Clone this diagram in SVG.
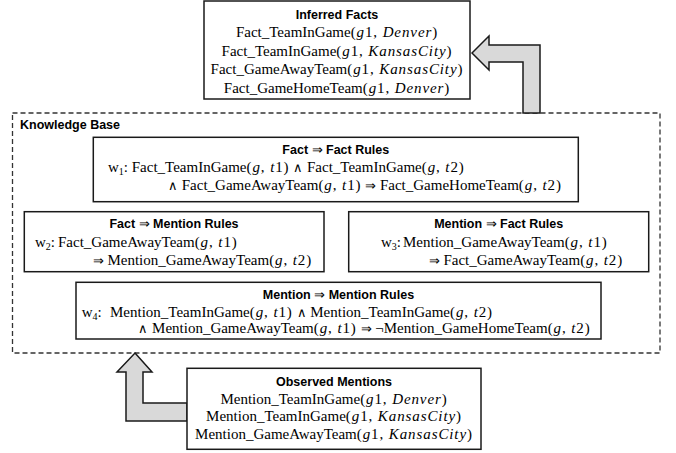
<svg xmlns="http://www.w3.org/2000/svg" width="676" height="453" viewBox="0 0 676 453">
<style>
.box{fill:#fff;stroke:#1a1a1a;stroke-width:1.5}
.kb{fill:none;stroke:#333;stroke-width:1.3;stroke-dasharray:5 3}
.arrow{fill:#d9d9d9;stroke:#1a1a1a;stroke-width:1.5;stroke-linejoin:miter}
.t{font-family:"Liberation Serif","Times New Roman","DejaVu Serif",serif;font-size:15px;fill:#000}
.c{text-anchor:middle}
.h{font-family:"Liberation Sans",Arial,sans-serif;font-weight:bold;font-size:12.5px;fill:#000}
.i{font-style:italic}
.m{letter-spacing:0.9px}
.op{font-family:"DejaVu Sans",sans-serif;font-weight:200;font-size:13px}
.sub{font-size:10px}
</style>
<rect width="676" height="453" fill="#fff"/>

<g id="knowledge-base">
<rect class="kb" x="12.5" y="113" width="647.5" height="240"/>
<text class="h" x="20" y="129">Knowledge Base</text>
</g>

<g id="connectors">
<polygon class="arrow" points="472,53 489,36 489,45 540,45 540,113 523,113 523,62 489,62 489,70"/>
<polygon class="arrow" points="135,353 152,372 143,372 143,403 187,403 187,421 126,421 126,372 117,372"/>
</g>

<g id="inferred-facts">
<rect class="box" x="204" y="1" width="266" height="98"/>
<text class="h c" x="337" y="18.5">Inferred Facts</text>
<text class="t c" x="337" y="37">Fact_TeamInGame<tspan class="m">(<tspan class="i">g</tspan>1, <tspan class="i">Denver</tspan>)</tspan></text>
<text class="t c" x="337" y="55.5">Fact_TeamInGame<tspan class="m">(<tspan class="i">g</tspan>1, <tspan class="i">KansasCity</tspan>)</tspan></text>
<text class="t c" x="337" y="74">Fact_GameAwayTeam<tspan class="m">(<tspan class="i">g</tspan>1, <tspan class="i">KansasCity</tspan>)</tspan></text>
<text class="t c" x="337" y="92.5">Fact_GameHomeTeam<tspan class="m">(<tspan class="i">g</tspan>1, <tspan class="i">Denver</tspan>)</tspan></text>
</g>

<g id="fact-fact-rules">
<rect class="box" x="93.3" y="137.3" width="485" height="64.4"/>
<text class="h c" x="335.8" y="154">Fact <tspan class="op" font-weight="200">⇒</tspan> Fact Rules</text>
<text class="t" x="108" y="171.5">w<tspan class="sub" dy="3">1</tspan><tspan dy="-3">: Fact_TeamInGame<tspan class="m">(<tspan class="i">g</tspan>, <tspan class="i">t</tspan>1)</tspan> <tspan class="op">∧</tspan> Fact_TeamInGame<tspan class="m">(<tspan class="i">g</tspan>, <tspan class="i">t</tspan>2)</tspan></tspan></text>
<text class="t" x="168" y="190"><tspan class="op">∧</tspan> Fact_GameAwayTeam<tspan class="m">(<tspan class="i">g</tspan>, <tspan class="i">t</tspan>1)</tspan> <tspan class="op">⇒</tspan> Fact_GameHomeTeam<tspan class="m">(<tspan class="i">g</tspan>, <tspan class="i">t</tspan>2)</tspan></text>
</g>

<g id="fact-mention-rules">
<rect class="box" x="24.3" y="211.7" width="299.7" height="60"/>
<text class="h c" x="174" y="227.5">Fact <tspan class="op" font-weight="200">⇒</tspan> Mention Rules</text>
<text class="t" x="35" y="246.5">w<tspan class="sub" dy="3">2</tspan><tspan dy="-3">:</tspan><tspan x="58">Fact_GameAwayTeam<tspan class="m">(<tspan class="i">g</tspan>, <tspan class="i">t</tspan>1)</tspan></tspan></text>
<text class="t" x="92.7" y="265"><tspan class="op">⇒</tspan> Mention_GameAwayTeam<tspan class="m">(<tspan class="i">g</tspan>, <tspan class="i">t</tspan>2)</tspan></text>
</g>

<g id="mention-fact-rules">
<rect class="box" x="348.7" y="211.7" width="300" height="60"/>
<text class="h c" x="498.7" y="227.5">Mention <tspan class="op" font-weight="200">⇒</tspan> Fact Rules</text>
<text class="t" x="381" y="246.5">w<tspan class="sub" dy="3">3</tspan><tspan dy="-3">:</tspan><tspan x="403">Mention_GameAwayTeam<tspan class="m">(<tspan class="i">g</tspan>, <tspan class="i">t</tspan>1)</tspan></tspan></text>
<text class="t" x="428.7" y="265"><tspan class="op">⇒</tspan> Fact_GameAwayTeam<tspan class="m">(<tspan class="i">g</tspan>, <tspan class="i">t</tspan>2)</tspan></text>
</g>

<g id="mention-mention-rules">
<rect class="box" x="76" y="282.3" width="525" height="56.7"/>
<text class="h c" x="338.5" y="298.5">Mention <tspan class="op" font-weight="200">⇒</tspan> Mention Rules</text>
<text class="t" x="81.7" y="316.5">w<tspan class="sub" dy="3">4</tspan><tspan dy="-3">:</tspan><tspan x="110">Mention_TeamInGame<tspan class="m">(<tspan class="i">g</tspan>, <tspan class="i">t</tspan>1)</tspan> <tspan class="op">∧</tspan> Mention_TeamInGame<tspan class="m">(<tspan class="i">g</tspan>, <tspan class="i">t</tspan>2)</tspan></tspan></text>
<text class="t" x="138.3" y="333"><tspan class="op">∧</tspan> Mention_GameAwayTeam<tspan class="m">(<tspan class="i">g</tspan>, <tspan class="i">t</tspan>1)</tspan> <tspan class="op">⇒</tspan> ¬Mention_GameHomeTeam<tspan class="m">(<tspan class="i">g</tspan>, <tspan class="i">t</tspan>2)</tspan></text>
</g>

<g id="observed-mentions">
<rect class="box" x="187" y="368.3" width="294" height="81"/>
<text class="h c" x="334" y="385.5">Observed Mentions</text>
<text class="t c" x="334" y="403.5">Mention_TeamInGame<tspan class="m">(<tspan class="i">g</tspan>1, <tspan class="i">Denver</tspan>)</tspan></text>
<text class="t c" x="334" y="421">Mention_TeamInGame<tspan class="m">(<tspan class="i">g</tspan>1, <tspan class="i">KansasCity</tspan>)</tspan></text>
<text class="t c" x="334" y="438.5">Mention_GameAwayTeam<tspan class="m">(<tspan class="i">g</tspan>1, <tspan class="i">KansasCity</tspan>)</tspan></text>
</g>
</svg>
